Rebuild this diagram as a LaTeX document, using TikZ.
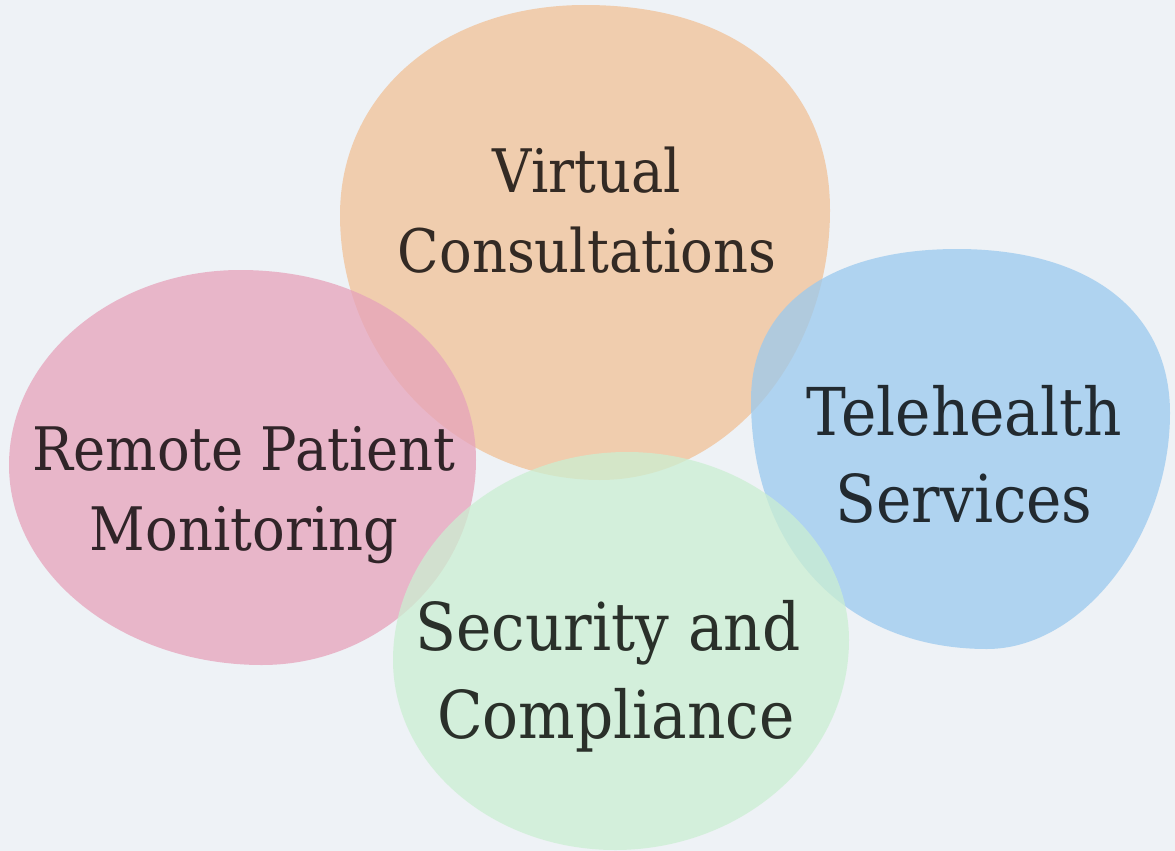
\documentclass[tikz,border=0pt]{standalone}
\usepackage{fontspec}
\setmainfont[FakeStretch=0.905]{DejaVu Serif}
\begin{document}
\begin{tikzpicture}[x=1pt,y=-1pt,
  blob/.style={draw=none,fill opacity=0.75},
  lbl/.style={anchor=base,inner sep=0pt,font=\fontsize{60}{72}\selectfont},
  lblb/.style={anchor=base,inner sep=0pt,font=\fontsize{66}{80}\selectfont}]
\definecolor{bgc}{RGB}{238,242,246}
\definecolor{orangeb}{RGB}{241,193,151}
\definecolor{pinkb}{RGB}{230,163,187}
\definecolor{blueb}{RGB}{155,201,238}
\definecolor{greenb}{RGB}{203,239,210}
\definecolor{tor}{RGB}{51,42,36}
\definecolor{tpk}{RGB}{48,36,40}
\definecolor{tbl}{RGB}{34,42,48}
\definecolor{tgr}{RGB}{42,48,42}
\fill[bgc] (0,0) rectangle (1175,851);
\useasboundingbox (0,0) rectangle (1175,851);
% blobs
\fill[blob,orangeb] (340,215) .. controls (340,93) and (443,5) .. (585,5)
  .. controls (737,5) and (830,83) .. (830,210)
  .. controls (830,358) and (727,480) .. (600,480)
  .. controls (457,480) and (340,361) .. cycle;
\fill[blob,blueb] (751,400) .. controls (751,306) and (829,249) .. (957,249)
  .. controls (1089,249) and (1170,311) .. (1170,413)
  .. controls (1170,536) and (1082,649) .. (987,649)
  .. controls (845,649) and (751,549) .. cycle;
\fill[blob,pinkb] (9,465) .. controls (9,358) and (113,270) .. (240,270)
  .. controls (377,270) and (476,350) .. (476,460)
  .. controls (476,573) and (380,665) .. (262,665)
  .. controls (123,665) and (9,575) .. cycle;
\fill[blob,greenb] (393,660) .. controls (393,546) and (498,452) .. (627,452)
  .. controls (749,452) and (849,537) .. (849,640)
  .. controls (849,756) and (744,850) .. (615,850)
  .. controls (493,850) and (393,765) .. cycle;
% labels
\node[lbl,text=tor] (vc1) at (587,192) {Virtual};
\node[lbl,text=tor] (vc2) at (587,272) {Consultations};
\node[lbl,text=tpk] (rp1) at (244,470) {Remote Patient};
\node[lbl,text=tpk] (rp2) at (244,550) {Monitoring};
\node[lblb,text=tbl] (th1) at (964,435) {Telehealth};
\node[lblb,text=tbl] (th2) at (964,522) {Services};
\node[lblb,text=tgr] (sc1) at (608,650) {Security and};
\node[lblb,text=tgr] (sc2) at (616,738) {Compliance};
\end{tikzpicture}
\end{document}
